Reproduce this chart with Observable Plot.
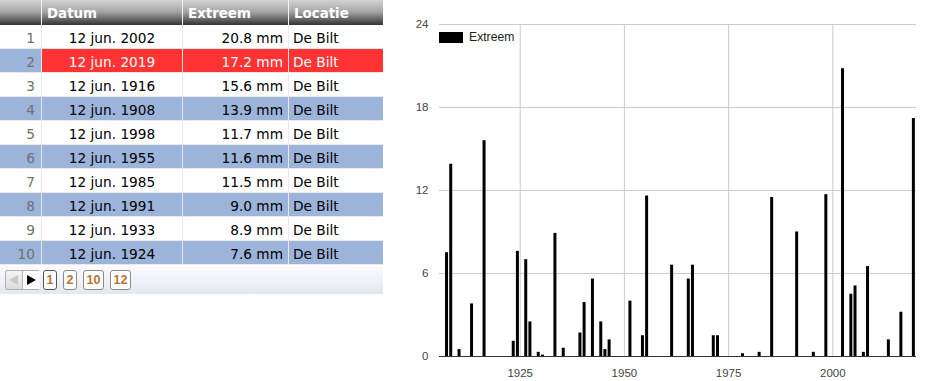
<!DOCTYPE html>
<html>
<head>
<meta charset="utf-8">
<script src="https://cdn.jsdelivr.net/npm/d3@7"></script>
<script src="https://cdn.jsdelivr.net/npm/@observablehq/plot@0.6"></script>
<style>
  html, body { margin: 0; padding: 0; background: #fff; }
  #root { position: relative; width: 944px; height: 381px; overflow: hidden; }
  #tbl { position: absolute; left: 0; top: 0; width: 383px; font-family: "DejaVu Sans", Verdana, sans-serif; font-size: 13.7px; }
  .row { position: absolute; left: 0; width: 383px; height: 23px; }
  .cell { position: absolute; top: 0; height: 23px; line-height: 26px; box-sizing: border-box; white-space: nowrap; }
  .hdr .cell { height: 25px; line-height: 27px; color: #fff; font-weight: bold; font-size: 13.4px; padding-left: 5px;
    background: linear-gradient(to bottom, #d2d2d2 0%, #a8a8a8 45%, #6a6a6a 75%, #333 100%); }
  .sep { position: absolute; background: #e9e9e9; }
  #pager { position: absolute; left: 0; top: 266px; width: 383px; height: 28px;
    background: linear-gradient(to bottom, #fbfbfd 0%, #eef0f6 60%, #e2e6ef 100%); }
  .pbtn { position: absolute; top: 4px; height: 18px; border: 1px solid #8a8a8a; border-radius: 3px; background: #fff;
    font-family: Arial, "Liberation Sans", sans-serif; font-weight: bold; font-size: 12.5px; color: #b87333;
    line-height: 19px; text-align: center; box-sizing: content-box; }
  #legend { position: absolute; left: 439px; top: 31px; font-family: Arial, "Liberation Sans", sans-serif; font-size: 12.2px; color: #222; }
  #legend .sw { position: absolute; left: 0; top: 1px; width: 24px; height: 11px; background: #000; }
  #legend .lb { position: absolute; left: 30px; top: -1px; white-space: nowrap; }
  #chart { position: absolute; left: 400px; top: 0; }
</style>
</head>
<body>
<div id="root">
  <div id="tbl"></div>
  <div id="chart"></div>
  <div id="legend"><div class="sw"></div><div class="lb">Extreem</div></div>
</div>
<script>
// ---- table data ----
const headers = ["", "Datum", "Extreem", "Locatie"];
const ranks = [1, 2, 3, 4, 5, 6, 7, 8, 9, 10];
const tableDates = ["12 jun. 2002", "12 jun. 2019", "12 jun. 1916", "12 jun. 1908", "12 jun. 1998",
                    "12 jun. 1955", "12 jun. 1985", "12 jun. 1991", "12 jun. 1933", "12 jun. 1924"];
const tableValues = ["20.8 mm", "17.2 mm", "15.6 mm", "13.9 mm", "11.7 mm",
                     "11.6 mm", "11.5 mm", "9.0 mm", "8.9 mm", "7.6 mm"];
const tableLocations = ["De Bilt", "De Bilt", "De Bilt", "De Bilt", "De Bilt",
                        "De Bilt", "De Bilt", "De Bilt", "De Bilt", "De Bilt"];
const highlightRank = 2;
const pages = ["1", "2", "10", "12"];

// ---- chart data ----
const years = [1907, 1908, 1910, 1913, 1916, 1923, 1924, 1926, 1927, 1929, 1930, 1933, 1935, 1939, 1940,
               1942, 1944, 1945, 1946, 1951, 1954, 1955, 1961, 1965, 1966, 1971, 1972, 1978, 1982, 1985,
               1991, 1995, 1998, 2002, 2004, 2005, 2007, 2008, 2013, 2016, 2019];
const values = [7.5, 13.9, 0.5, 3.8, 15.6, 1.1, 7.6, 7.0, 2.5, 0.3, 0.1, 8.9, 0.6, 1.7, 3.9,
                5.6, 2.5, 0.5, 1.2, 4.0, 1.5, 11.6, 6.6, 5.6, 6.6, 1.5, 1.5, 0.2, 0.3, 11.5,
                9.0, 0.3, 11.7, 20.8, 4.5, 5.1, 0.3, 6.5, 1.2, 3.2, 17.2];
const tickYears = [1925, 1950, 1975, 2000];
const yTicks = [0, 6, 12, 18, 24];

// ---- build table ----
const tbl = document.getElementById("tbl");
const cols = [
  {left: 0, width: 41, align: "right", pad: "0 6px 0 0"},
  {left: 42, width: 140, align: "center", pad: "0"},
  {left: 183, width: 105, align: "right", pad: "0 5px 0 0"},
  {left: 289, width: 94, align: "left", pad: "0 0 0 4px"}
];
const hdr = document.createElement("div");
hdr.className = "row hdr";
hdr.style.top = "0px"; hdr.style.height = "25px";
headers.forEach((h, i) => {
  const c = document.createElement("div");
  c.className = "cell";
  c.style.left = cols[i].left + "px";
  c.style.width = cols[i].width + "px";
  c.textContent = h;
  hdr.appendChild(c);
});
tbl.appendChild(hdr);

const blue = "#9db4da";
ranks.forEach((r, i) => {
  const row = document.createElement("div");
  row.className = "row";
  const top = 25 + i * 24;
  row.style.top = top + "px";
  const even = (r % 2 === 0);
  const hi = r === highlightRank;
  const texts = [String(r), tableDates[i], tableValues[i], tableLocations[i]];
  texts.forEach((t, j) => {
    const c = document.createElement("div");
    c.className = "cell";
    c.style.left = cols[j].left + "px";
    c.style.width = cols[j].width + "px";
    c.style.textAlign = cols[j].align;
    c.style.padding = cols[j].pad;
    let bg = even ? blue : "#fff";
    let col = "#000";
    if (j === 0) col = "#6f6f6f";
    if (hi && j > 0) { bg = "#ff3333"; col = "#fff"; }
    c.style.background = bg;
    c.style.color = col;
    c.textContent = t;
    row.appendChild(c);
  });
  tbl.appendChild(row);
  const s = document.createElement("div");
  s.className = "sep";
  s.style.left = "0px"; s.style.top = (top + 23) + "px"; s.style.width = "383px"; s.style.height = "1px";
  tbl.appendChild(s);
});
[41, 182, 288].forEach(x => {
  const s = document.createElement("div");
  s.className = "sep";
  s.style.left = x + "px"; s.style.top = "25px"; s.style.width = "1px"; s.style.height = (24 * 10) + "px";
  tbl.appendChild(s);
  const h = document.createElement("div");
  h.className = "sep";
  h.style.left = x + "px"; h.style.top = "0px"; h.style.width = "1px"; h.style.height = "25px";
  h.style.background = "#f4f4f4";
  tbl.appendChild(h);
});

// pager
const pager = document.createElement("div");
pager.id = "pager";
const arrows = document.createElement("div");
arrows.style.cssText = "position:absolute;left:5px;top:4px;width:33px;height:18px;border:1px solid #b0b0b0;border-radius:2px;background:linear-gradient(#f4f4f4,#dcdcdc);";
arrows.innerHTML = '<div style="position:absolute;left:3px;top:4px;width:0;height:0;border-top:5px solid transparent;border-bottom:5px solid transparent;border-right:9px solid #c8c8c8;"></div>' +
  '<div style="position:absolute;left:16px;top:0;width:17px;height:18px;background:#fff;border-left:1px solid #b0b0b0;"></div>' +
  '<div style="position:absolute;left:21px;top:4px;width:0;height:0;border-top:5px solid transparent;border-bottom:5px solid transparent;border-left:9px solid #000;"></div>';
pager.appendChild(arrows);
const pageLefts = [43, 63, 83, 110];
const pageWidths = [12, 12, 19, 19];
pages.forEach((p, i) => {
  const b = document.createElement("div");
  b.className = "pbtn";
  b.style.left = pageLefts[i] + "px";
  b.style.width = pageWidths[i] + "px";
  if (i === 0) b.style.borderColor = "#555";
  b.textContent = p;
  pager.appendChild(b);
});
tbl.appendChild(pager);

// ---- chart ----
const data = years.map((y, i) => ({date: new Date(Date.UTC(y, 4, 1)), value: values[i]}));
const tickDates = tickYears.map(y => new Date(Date.UTC(y, 0, 1)));
const fmt = d3.utcFormat("%Y");

const chart = Plot.plot({
  width: 544,
  height: 381,
  marginLeft: 39,
  marginRight: 28,
  marginTop: 24,
  marginBottom: 25,
  style: {fontFamily: "Arial, 'Liberation Sans', sans-serif", fontSize: "11.5px", color: "#444", background: "transparent"},
  x: {type: "utc", domain: [new Date(Date.UTC(1905, 7, 22)), new Date(Date.UTC(2020, 0, 30))]},
  y: {domain: [0, 24]},
  marks: [
    Plot.gridY(yTicks, {stroke: "#cccccc", strokeOpacity: 1}),
    Plot.gridX(tickDates, {stroke: "#cccccc", strokeOpacity: 1}),
    Plot.axisY(yTicks, {tickSize: 0, tickPadding: 11, label: null, fill: "#444"}),
    Plot.axisX(tickDates, {tickSize: 0, tickPadding: 12, label: null, tickFormat: fmt, fill: "#444"}),
    Plot.ruleX(data, {x: "date", y1: 0, y2: "value", stroke: "#000", strokeWidth: 3}),
    Plot.ruleY([0], {stroke: "#333", strokeWidth: 1})
  ]
});
document.getElementById("chart").appendChild(chart);
</script>
</body>
</html>
